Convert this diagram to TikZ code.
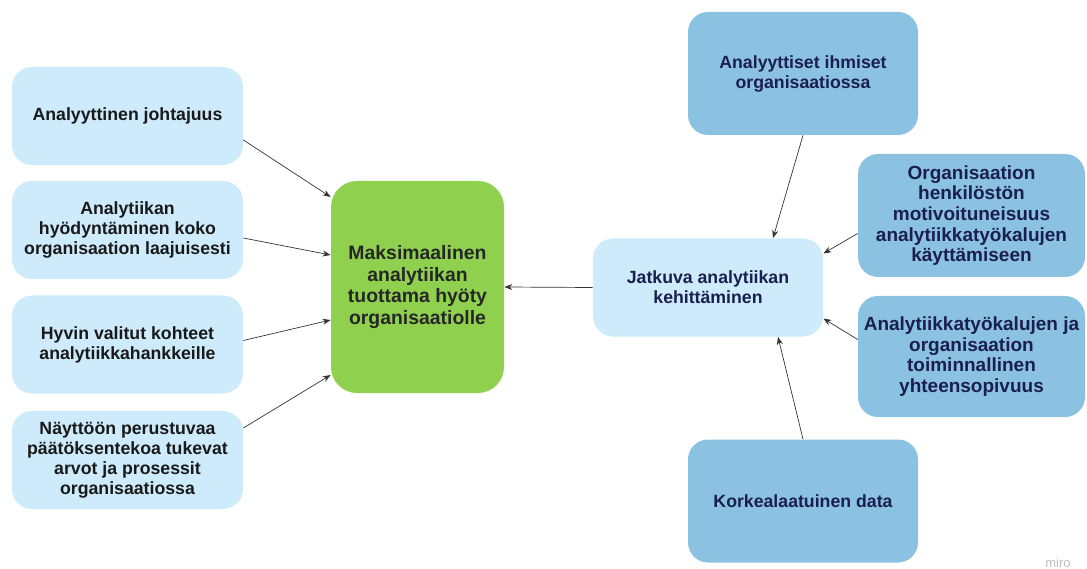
\documentclass[tikz,border=0pt]{standalone}
\usepackage{fontspec}
\setmainfont{Liberation Sans}
\usetikzlibrary{arrows.meta}
\definecolor{lightBox}{HTML}{CDEBFB}
\definecolor{darkBox}{HTML}{8CC2E1}
\definecolor{goalColor}{HTML}{8FD14F}
\definecolor{navyText}{HTML}{1A1F4D}
\definecolor{arrowColor}{HTML}{333333}
\tikzset{topic box/.style={rounded corners=20pt, fill=lightBox, text=black!90, align=center,
		font=\bfseries\fontsize{17.7}{20}\selectfont, minimum width=231pt, minimum height=98pt, inner sep=2pt}}
\tikzset{factor box/.style={topic box, fill=darkBox, text=navyText, minimum width=230pt, minimum height=123pt}}
\tikzset{goal box/.style={topic box, fill=goalColor, rounded corners=26pt, text=black!85,
		font=\bfseries\fontsize{19.4}{21.5}\selectfont, minimum width=173pt, minimum height=212pt}}

\begin{document}
\begin{tikzpicture}[x=1pt,y=-1pt,-{Stealth[length=8pt,width=6pt]},draw=arrowColor,line width=0.7pt]
	\useasboundingbox (0,0) rectangle (1087,569);
	\node[topic box] at (127.5,116)   (l_1) {Analyyttinen johtajuus};
	\node[topic box] at (127.5,230)   (l_2) {Analytiikan\\hyödyntäminen koko\\organisaation laajuisesti};
	\node[topic box] at (127.5,344.5) (l_3) {Hyvin valitut kohteet\\analytiikkahankkeille};
	\node[topic box] at (127.5,460)   (l_4) {Näyttöön perustuvaa\\päätöksentekoa tukevat\\arvot ja prosessit\\organisaatiossa};
	\node[goal box] at (417.5,287) (goal) {Maksimaalinen\\analytiikan\\tuottama hyöty\\organisaatiolle};
	\node[topic box, text=navyText, minimum width=230pt] at (708,287.5) (dev) {Jatkuva analytiikan\\kehittäminen};
	\node[factor box] at (803,73.5)  (r_1) {Analyyttiset ihmiset\\organisaatiossa};
	\node[factor box, minimum width=227pt, font=\bfseries\fontsize{19}{20.7}\selectfont] at (971.5,215.5) (r_2) {Organisaation\\henkilöstön\\motivoituneisuus\\analytiikkatyökalujen\\käyttämiseen};
	\node[factor box, minimum width=227pt, minimum height=121pt, font=\bfseries\fontsize{19}{20.7}\selectfont] at (971.5,356.5) (r_3) {Analytiikkatyökalujen ja\\organisaation\\toiminnallinen\\yhteensopivuus};
	\node[factor box] at (803,501) (r_4) {Korkealaatuinen data};
	\node[text=black!25, font=\fontsize{13}{13}\selectfont] at (1058,563) (miro) {miro};
	\path ([yshift=-24pt]l_1.east) edge ([yshift=90pt]goal.west);
	\path ([yshift=-8pt]l_2.east) edge ([yshift=32pt]goal.west);
	\path ([yshift=4pt]l_3.east) edge ([yshift=-33pt]goal.west);
	\path ([yshift=32pt]l_4.east) edge ([yshift=-88pt]goal.west);
	\path (dev.west) edge (goal.east);
	% inputs of the development box
	\path (r_1.south) edge ([xshift=65pt]dev.north);
	\path ([yshift=-18pt]r_2.west) edge ([yshift=34pt]dev.east);
	\path ([yshift=17pt]r_3.west) edge ([yshift=-31pt]dev.east);
	\path (r_4.north) edge ([xshift=70pt]dev.south);
\end{tikzpicture}
\end{document}
